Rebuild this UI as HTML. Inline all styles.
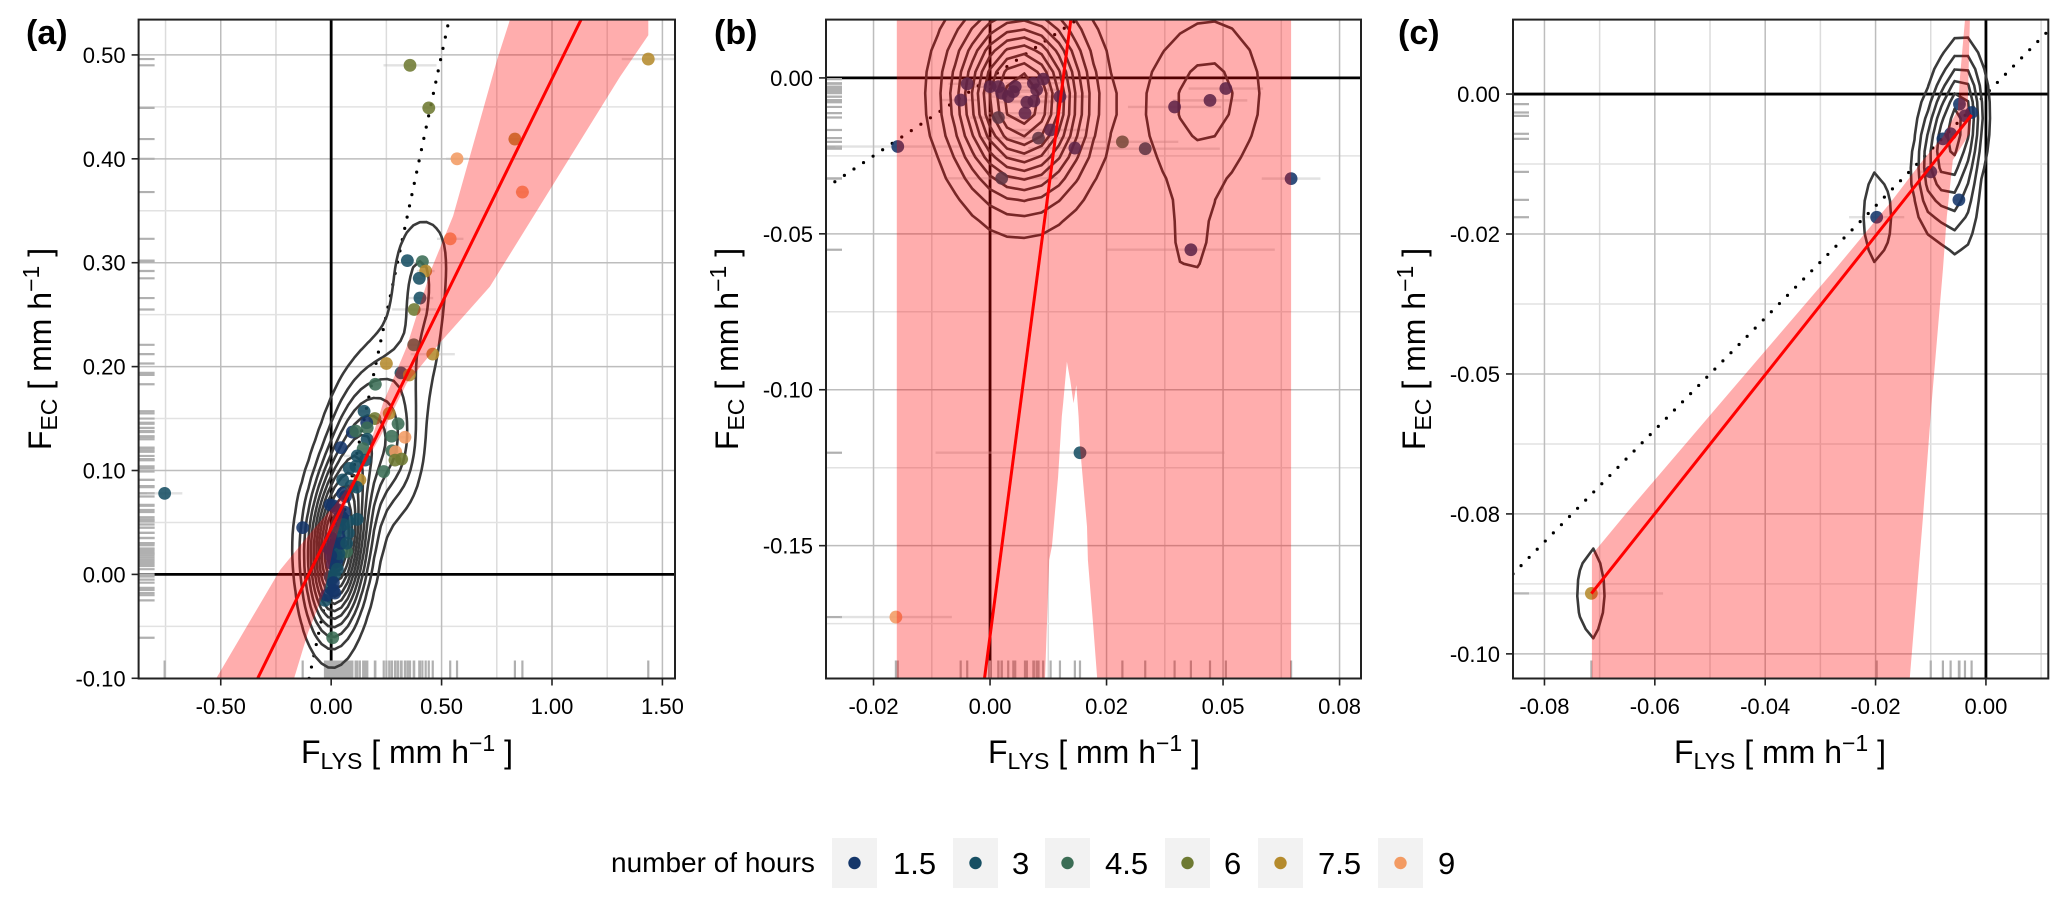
<!DOCTYPE html>
<html lang="en">
<head>
<meta charset="utf-8">
<title>FEC vs FLYS</title>
<style>
html,body{margin:0;padding:0;background:#fff;overflow:hidden;width:2067px;height:903px;}
svg{display:block;font-family:"Liberation Sans",Arial,sans-serif;}
</style>
</head>
<body>
<svg id="chart" xmlns="http://www.w3.org/2000/svg" width="2067" height="903" viewBox="0 0 2067 903">
<rect x="0" y="0" width="2067" height="903" fill="#fff"/>

<text x="26" y="44" font-size="34" font-weight="bold">(a)</text>
<text x="714" y="44" font-size="34" font-weight="bold">(b)</text>
<text x="1398" y="44" font-size="34" font-weight="bold">(c)</text>

<text x="407" y="763" font-size="32" text-anchor="middle" xml:space="preserve">F<tspan font-size="23" dy="6">LYS</tspan><tspan dy="-6"> [ mm h</tspan><tspan font-size="23" dy="-12">−1</tspan><tspan dy="12"> ]</tspan></text>
<text x="1094" y="763" font-size="32" text-anchor="middle" xml:space="preserve">F<tspan font-size="23" dy="6">LYS</tspan><tspan dy="-6"> [ mm h</tspan><tspan font-size="23" dy="-12">−1</tspan><tspan dy="12"> ]</tspan></text>
<text x="1780" y="763" font-size="32" text-anchor="middle" xml:space="preserve">F<tspan font-size="23" dy="6">LYS</tspan><tspan dy="-6"> [ mm h</tspan><tspan font-size="23" dy="-12">−1</tspan><tspan dy="12"> ]</tspan></text>

<text transform="translate(51 349) rotate(-90)" font-size="32" text-anchor="middle" xml:space="preserve">F<tspan font-size="23" dy="6">EC</tspan><tspan dy="-6"> [ mm h</tspan><tspan font-size="23" dy="-12">−1</tspan><tspan dy="12"> ]</tspan></text>
<text transform="translate(738 349) rotate(-90)" font-size="32" text-anchor="middle" xml:space="preserve">F<tspan font-size="23" dy="6">EC</tspan><tspan dy="-6"> [ mm h</tspan><tspan font-size="23" dy="-12">−1</tspan><tspan dy="12"> ]</tspan></text>
<text transform="translate(1425 349) rotate(-90)" font-size="32" text-anchor="middle" xml:space="preserve">F<tspan font-size="23" dy="6">EC</tspan><tspan dy="-6"> [ mm h</tspan><tspan font-size="23" dy="-12">−1</tspan><tspan dy="12"> ]</tspan></text>

<g>
  <text x="611" y="872" font-size="28">number of hours</text>
  <g>
    <rect x="832" y="838" width="45" height="50" fill="#f2f2f2"/>
    <circle cx="854.5" cy="863" r="6.2" fill="#14366a"/>
    <text x="893" y="874" font-size="31">1.5</text>
  </g>
  <g>
    <rect x="953" y="838" width="45" height="50" fill="#f2f2f2"/>
    <circle cx="975.5" cy="863" r="6.2" fill="#174f63"/>
    <text x="1012" y="874" font-size="31">3</text>
  </g>
  <g>
    <rect x="1045" y="838" width="45" height="50" fill="#f2f2f2"/>
    <circle cx="1067.5" cy="863" r="6.2" fill="#3b6d55"/>
    <text x="1105" y="874" font-size="31">4.5</text>
  </g>
  <g>
    <rect x="1165" y="838" width="45" height="50" fill="#f2f2f2"/>
    <circle cx="1187.5" cy="863" r="6.2" fill="#6e7a32"/>
    <text x="1224" y="874" font-size="31">6</text>
  </g>
  <g>
    <rect x="1258" y="838" width="45" height="50" fill="#f2f2f2"/>
    <circle cx="1280.5" cy="863" r="6.2" fill="#b58b2d"/>
    <text x="1318" y="874" font-size="31">7.5</text>
  </g>
  <g>
    <rect x="1378" y="838" width="45" height="50" fill="#f2f2f2"/>
    <circle cx="1400.5" cy="863" r="6.2" fill="#f39b63"/>
    <text x="1438" y="874" font-size="31">9</text>
  </g>
</g>
</svg>

<script>
// ---------- shared scale values ----------
const hourLevels = [1.5, 3, 4.5, 6, 7.5, 9];
const hourPalette = ['#14366a', '#174f63', '#3b6d55', '#6e7a32', '#b58b2d', '#f39b63'];

// ---------- panel (a) data ----------
const aX = [.345,.413,.428,.399,.402,.376,.374,.460,.250,.316,.354,.200,.149,.263,.198,.303,.161,.096,.111,.163,
  .274,.334,.163,.044,.145,.275,.292,.118,.319,.289,.154,.112,.082,.238,.052,.130,.115,.052,-.754,.010,
  .118,.078,-.129,.078,.037,.070,.032,.017,.002,-.005,.017,-.028,.007,.002,-.013,.010,-.005,.040,.032,-.005,-.020,.010,
  .357,.442,.570,.832,.866,.539,1.436,
  .005,.020,.030,.040,.050,.060,.015,.025,.012,.020,.000,.035,-.002,.010,.028,.045,.055,.065,.090,.070];
const aY = [.302,.301,.292,.285,.266,.255,.221,.212,.203,.194,.192,.183,.157,.155,.150,.145,.146,.137,.138,.141,
  .133,.132,.130,.122,.121,.119,.118,.114,.111,.110,.110,.104,.102,.099,.091,.091,.084,.078,.078,.066,
  .053,.051,.045,.040,.035,.022,.016,.008,-.005,-.013,-.018,-.025,-.061,.024,.025,.014,.067,.052,.062,-.002,-.020,-.015,
  .490,.449,.400,.419,.368,.323,.496,
  .010,.020,.030,.045,.055,.060,.000,.012,.028,.040,.035,.020,.018,-.008,.005,.030,.048,.075,.085,.030];
const aHours = [3,4.5,7.5,3,3,6,4.5,7.5,7.5,3,7.5,4.5,3,7.5,6,4.5,1.5,1.5,4.5,4.5,
  4.5,9,3,1.5,4.5,4.5,9,3,6,6,3,3,3,4.5,3,7.5,3,1.5,3,1.5,
  3,3,1.5,3,1.5,4.5,3,3,3,3,1.5,3,4.5,1.5,1.5,3,1.5,1.5,1.5,3,1.5,1.5,
  6,6,9,7.5,9,9,7.5,
  1.5,1.5,3,1.5,1.5,1.5,3,1.5,1.5,3,1.5,3,1.5,1.5,3,1.5,3,1.5,3,3];
const aErr = [.03,.03,.04,.03,.06,.10,.03,.10,.03,.03,.03,.03,.03,.03,.03,.03,.03,.03,.03,.03,
  .03,.03,.03,.03,.03,.03,.03,.06,.03,.03,.03,.03,.03,.03,.03,.03,.03,.03,.08,.03,
  .02,.02,.02,.02,.02,.02,.02,.02,.02,.02,.02,.02,.02,.02,.02,.02,.02,.02,.02,.02,.02,.02,
  .12,.03,.05,.03,.03,.06,.12,
  .02,.02,.02,.02,.02,.02,.02,.02,.02,.02,.02,.02,.02,.02,.02,.02,.02,.02,.02,.02];
const aRibbonX = [-.520,-.232,-.082,.017,.144,.235,.342,.452,.552,.751,.810,1.436,1.436,1.308,.719,.493,.342,.221,.085,.008,-.028,-.105,-.168];
const aRibbonY = [-.100,.004,.043,.067,.104,.165,.219,.293,.345,.495,.534,.534,.519,.479,.277,.223,.184,.132,.081,.024,-.015,-.056,-.100];
const aFitIntercept = 0.044;
const aFitSlope = 0.433;
const aFitRange = [-.335, 1.15];
const a11Range = [-.1, .534];
const aXMajor = [-.5, 0, .5, 1, 1.5];
const aXLabels = ['-0.50', '0.00', '0.50', '1.00', '1.50'];
const aXMinor = [-.75, -.25, .25, .75, 1.25];
const aYMajor = [-.1, 0, .1, .2, .3, .4, .5];
const aYLabels = ['-0.10', '0.00', '0.10', '0.20', '0.30', '0.40', '0.50'];
const aYMinor = [-.05, .05, .15, .25, .35, .45];
const aLevels = [2.6, 5.2, 7.8, 10.4, 13, 15.6, 18.2, 20.8, 23.4, 26, 28.6, 31.2];

// ---------- panel (b) data ----------
const bX = [-.0049,-.0063,0,.0018,.0025,.0039,.0054,.005,.0093,.0114,.01,.0079,.0094,.0075,.015,.0018,.0104,.013,.0182,.0284,.0025,
  .0333,.0396,.0472,.0506,.0646,.0431,-.0198,.0193,-.0202];
const bY = [-.0019,-.0071,-.0028,-.0028,-.0049,-.006,-.0028,-.0044,-.0017,-.0004,-.0038,-.0078,-.0074,-.0113,-.006,-.0127,-.0193,-.0167,-.0225,-.0205,-.0322,
  -.0227,-.0093,-.0072,-.0034,-.0323,-.0551,-.022,-.1202,-.1729];
const bHours = [1.5,1.5,1.5,1.5,1.5,1.5,1.5,1.5,1.5,1.5,1.5,1.5,1.5,1.5,1.5,3,3,1.5,1.5,4.5,3,
  3,1.5,1.5,1.5,1.5,1.5,1.5,3,9];
const bErr = [.004,.004,.004,.004,.004,.004,.004,.004,.006,.006,.006,.006,.006,.008,.006,.006,.012,.008,.010,.012,.012,
  .016,.010,.008,.008,.0063,.018,.0134,.031,.012];
const bDensityWeight = [.5,.5,1,1,1,1,1,1,1.3,1.3,1,1,1,1,1,1,1,1,0,0,.6,
  0,1.15,1.15,1.15,0,1.2,0,0,0];
const bRibbonX = [-.0200,.0646,.0646,.0230,.0221,.0210,.0208,.0193,.0190,.0185,.0179,.0172,.0165,.0157,.0154,.0146,.0133,.0127,.0118,-.0200];
const bRibbonY = [.0187,.0187,-.1926,-.1926,-.1748,-.1546,-.1439,-.1183,-.1086,-.0985,-.1043,-.0969,-.0910,-.1042,-.1086,-.1279,-.1500,-.1546,-.1926,-.1926];
const bFitIntercept = -0.179;
const bFitSlope = 11.4;
const bFitRange = [-.0012, .0175];
const b11Range = [-.0333, .0187];
const bXMajor = [-.025, 0, .025, .05, .075];
const bXLabels = ['-0.02', '0.00', '0.02', '0.05', '0.08'];
const bXMinor = [-.0125, .0125, .0375, .0625];
const bYMajor = [-.15, -.1, -.05, 0];
const bYLabels = ['-0.15', '-0.10', '-0.05', '0.00'];
const bYMinor = [-.175, -.125, -.075, -.025];
const bLevels = [1.15, 2.3, 3.45, 4.6, 5.75, 6.9, 8.05, 9.2, 10.35, 11.5, 12.65];

// ---------- panel (c) data ----------
const cX = [-.0048,-.0026,-.0038,-.0078,-.0064,-.01,-.0049,-.0198,-.0715];
const cY = [-.0018,-.0033,-.0039,-.008,-.0071,-.0139,-.0189,-.022,-.0892];
const cHours = [1.5,1.5,1.5,1.5,1.5,1.5,1.5,1.5,7.5];
const cErr = [.001,.001,.001,.001,.001,.002,.001,.005,.013];
const cDensityWeight = [1,.7,1,1,1,1.5,1.2,1,1];
const cRibbonX = [-.0714,-.0714,-.0699,-.0651,-.0476,-.0274,-.0174,-.0114,-.0078,-.0051,-.0047,-.0038,
  -.0029,-.0033,-.0026,-.0029,-.006,-.0071,-.0078,-.0098,-.0114,-.0138];
const cRibbonY = [-.1043,-.0823,-.0805,-.0748,-.0546,-.0314,-.0195,-.0118,-.0076,-.0029,.0031,.0133,
  .0133,-.0023,-.0041,-.007,-.0118,-.0219,-.0314,-.0546,-.0755,-.1043];
const cFitIntercept = -0.0005;
const cFitSlope = 1.241;
const cFitRange = [-.0715, -.0026];
const c11Range = [-.0857, .0125];
const cXMajor = [-.08, -.06, -.04, -.02, 0];
const cXLabels = ['-0.08', '-0.06', '-0.04', '-0.02', '0.00'];
const cXMinor = [-.07, -.05, -.03, -.01, .01];
const cYMajor = [-.1, -.075, -.05, -.025, 0];
const cYLabels = ['-0.10', '-0.08', '-0.05', '-0.02', '0.00'];
const cYMinor = [-.0875, -.0625, -.0375, -.0125];
const cLevels = [.55, 1.1, 1.65, 2.2, 2.75, 3.3, 3.85];

// ---------- layout ----------
const NS = 'http://www.w3.org/2000/svg';
const root = document.getElementById('chart');

function mk(parent, tag, attrs) {
  const el = document.createElementNS(NS, tag);
  for (const k in attrs) el.setAttribute(k, attrs[k]);
  parent.appendChild(el);
  return el;
}

function hourColor(h) {
  const i = hourLevels.indexOf(h);
  return hourPalette[i < 0 ? 0 : i];
}

function buildField(xs, ys, weights, sx, sy, grid) {
  const [nx, ny, xmin, xmax, ymin, ymax] = grid;
  const dx = (xmax - xmin) / nx, dy = (ymax - ymin) / ny;
  const field = [];
  for (let i = 0; i <= nx; i++) {
    field.push([]);
    for (let j = 0; j <= ny; j++) {
      const gx = xmin + i * dx, gy = ymin + j * dy;
      let s = 0;
      for (let k = 0; k < xs.length; k++) {
        const w = weights ? weights[k] : 1;
        const u = (gx - xs[k]) / sx, v = (gy - ys[k]) / sy;
        s += w * Math.exp(-0.5 * (u * u + v * v));
      }
      field[i].push(s);
    }
  }
  return field;
}

function contourD(field, level, px, py, grid) {
  const [nx, ny, xmin, xmax, ymin, ymax] = grid;
  const dx = (xmax - xmin) / nx, dy = (ymax - ymin) / ny;
  let d = '';
  const lerp = (a, b) => (level - a) / (b - a);
  for (let i = 0; i < nx; i++) {
    for (let j = 0; j < ny; j++) {
      const f00 = field[i][j], f10 = field[i + 1][j], f11 = field[i + 1][j + 1], f01 = field[i][j + 1];
      const x0 = xmin + i * dx, y0 = ymin + j * dy;
      const hits = [];
      if ((f00 < level) !== (f10 < level)) hits.push([x0 + lerp(f00, f10) * dx, y0]);
      if ((f10 < level) !== (f11 < level)) hits.push([x0 + dx, y0 + lerp(f10, f11) * dy]);
      if ((f01 < level) !== (f11 < level)) hits.push([x0 + lerp(f01, f11) * dx, y0 + dy]);
      if ((f00 < level) !== (f01 < level)) hits.push([x0, y0 + lerp(f00, f01) * dy]);
      for (let k = 0; k + 1 < hits.length; k += 2) {
        d += 'M' + px(hits[k][0]).toFixed(1) + ' ' + py(hits[k][1]).toFixed(1) +
             'L' + px(hits[k + 1][0]).toFixed(1) + ' ' + py(hits[k + 1][1]).toFixed(1);
      }
    }
  }
  return d;
}

function drawPanel(p) {
  const W = p.right - p.left, H = p.bottom - p.top;
  const px = v => p.left + (v - p.xlim[0]) / (p.xlim[1] - p.xlim[0]) * W;
  const py = v => p.top + (p.ylim[1] - v) / (p.ylim[1] - p.ylim[0]) * H;

  const g = mk(root, 'g', {});
  
  

  const defs = mk(g, 'defs', {});
  const clip = mk(defs, 'clipPath', { id: 'clip-' + p.id });
  mk(clip, 'rect', { x: p.left, y: p.top, width: W, height: H });

  const plot = mk(g, 'g', { 'clip-path': 'url(#clip-' + p.id + ')' });
  
  

  // grid
  p.xMinor.forEach(v => {
    const el = mk(plot, 'line', { x1: px(v), x2: px(v), y1: p.top, y2: p.bottom, stroke: '#dcdcdc', 'stroke-width': 1.5 });
    
    
  });
  p.yMinor.forEach(v => {
    const el = mk(plot, 'line', { x1: p.left, x2: p.right, y1: py(v), y2: py(v), stroke: '#e2e2e2', 'stroke-width': 1.5 });
    
    
  });
  p.xMajor.forEach(v => {
    const el = mk(plot, 'line', { x1: px(v), x2: px(v), y1: p.top, y2: p.bottom, stroke: '#bdbdbd', 'stroke-width': 1.5 });
    
    
  });
  p.yMajor.forEach(v => {
    const el = mk(plot, 'line', { x1: p.left, x2: p.right, y1: py(v), y2: py(v), stroke: '#bdbdbd', 'stroke-width': 1.5 });
    
    
  });

  // zero reference lines
  const zh = mk(plot, 'line', { x1: p.left, x2: p.right, y1: py(0), y2: py(0), stroke: '#000', 'stroke-width': 2.8 });
  
  
  const zv = mk(plot, 'line', { x1: px(0), x2: px(0), y1: p.top, y2: p.bottom, stroke: '#000', 'stroke-width': 2.8 });
  
  

  // rugs
  p.x.forEach(v => {
    const el = mk(plot, 'line', { x1: px(v), x2: px(v), y1: p.bottom - 18, y2: p.bottom, stroke: '#b0b0b0', 'stroke-width': 2.2 });
    
    
  });
  p.y.forEach(v => {
    const el = mk(plot, 'line', { x1: p.left, x2: p.left + 16, y1: py(v), y2: py(v), stroke: '#b0b0b0', 'stroke-width': 2.2 });
    
    
  });

  // horizontal error bars
  p.x.forEach((v, i) => {
    const el = mk(plot, 'line', { x1: px(v - p.err[i]), x2: px(v + p.err[i]), y1: py(p.y[i]), y2: py(p.y[i]), stroke: 'rgba(190,190,190,.45)', 'stroke-width': 2.4 });
    
    
  });

  // 1:1 dotted line
  const one = mk(plot, 'line', { x1: px(p.oneRange[0]), y1: py(p.oneRange[0]), x2: px(p.oneRange[1]), y2: py(p.oneRange[1]),
    stroke: '#000', 'stroke-width': 3.2, 'stroke-linecap': 'round', 'stroke-dasharray': '0 11.5' });
  
  

  // density contours computed from the points
  const ex = (p.xlim[1] - p.xlim[0]) * .05, ey = (p.ylim[1] - p.ylim[0]) * .05;
  const grid = [p.nx, p.ny, p.xlim[0] - ex, p.xlim[1] + ex, p.ylim[0] - ey, p.ylim[1] + ey];
  const field = buildField(p.x, p.y, p.weight, p.sx, p.sy, grid);
  p.levels.forEach(lv => {
    const d = contourD(field, lv, px, py, grid);
    if (!d) return;
    const el = mk(plot, 'path', { d: d, fill: 'none', stroke: '#3a3a3a', 'stroke-width': 2.6, 'stroke-linecap': 'round', 'stroke-linejoin': 'round' });
    
    
  });

  // points
  p.x.forEach((v, i) => {
    const el = mk(plot, 'circle', { cx: px(v), cy: py(p.y[i]), r: 6.4, fill: hourColor(p.hours[i]), 'fill-opacity': .88 });
    
    
  });

  // confidence ribbon (sits over everything below it)
  const pts = p.ribbonX.map((v, i) => px(v).toFixed(1) + ',' + py(p.ribbonY[i]).toFixed(1)).join(' ');
  const rib = mk(plot, 'polygon', { points: pts, fill: 'rgba(255,0,0,.32)' });
  
  

  // regression line
  const fit = v => p.fitIntercept + p.fitSlope * v;
  const rl = mk(plot, 'line', { x1: px(p.fitRange[0]), y1: py(fit(p.fitRange[0])), x2: px(p.fitRange[1]), y2: py(fit(p.fitRange[1])), stroke: '#f00', 'stroke-width': 3 });
  
  

  // border
  const border = mk(g, 'rect', { x: p.left, y: p.top, width: W, height: H, fill: 'none', stroke: '#222', 'stroke-width': 2 });
  
  

  // ticks + labels
  p.xMajor.forEach((v, i) => {
    const t = mk(g, 'line', { x1: px(v), x2: px(v), y1: p.bottom, y2: p.bottom + 7, stroke: '#222', 'stroke-width': 1.6 });
    
    
    const l = mk(g, 'text', { x: px(v), y: p.bottom + 35.5, 'font-size': 22, 'text-anchor': 'middle' });
    l.textContent = p.xLabels[i];
    
    
  });
  p.yMajor.forEach((v, i) => {
    const t = mk(g, 'line', { x1: p.left - 7, x2: p.left, y1: py(v), y2: py(v), stroke: '#222', 'stroke-width': 1.6 });
    
    
    const l = mk(g, 'text', { x: p.left - 13, y: py(v) + 8, 'font-size': 22, 'text-anchor': 'end' });
    l.textContent = p.yLabels[i];
    
    
  });
}

drawPanel({ id: 'a', left: 138.6, right: 675, top: 19.6, bottom: 678.5,
  xlim: [-.872, 1.557], ylim: [-.1002, .534],
  x: aX, y: aY, hours: aHours, err: aErr, ribbonX: aRibbonX, ribbonY: aRibbonY,
  fitIntercept: aFitIntercept, fitSlope: aFitSlope, fitRange: aFitRange, oneRange: a11Range,
  xMajor: aXMajor, xLabels: aXLabels, xMinor: aXMinor, yMajor: aYMajor, yLabels: aYLabels, yMinor: aYMinor,
  levels: aLevels, weight: null, sx: .08, sy: .04, nx: 90, ny: 90 });

drawPanel({ id: 'b', left: 826, right: 1361, top: 19.6, bottom: 678.5,
  xlim: [-.0352, .0796], ylim: [-.1926, .0187],
  x: bX, y: bY, hours: bHours, err: bErr, ribbonX: bRibbonX, ribbonY: bRibbonY,
  fitIntercept: bFitIntercept, fitSlope: bFitSlope, fitRange: bFitRange, oneRange: b11Range,
  xMajor: bXMajor, xLabels: bXLabels, xMinor: bXMinor, yMajor: bYMajor, yLabels: bYLabels, yMinor: bYMinor,
  levels: bLevels, weight: bDensityWeight, sx: .0072, sy: .018, nx: 34, ny: 34 });

drawPanel({ id: 'c', left: 1513, right: 2048.3, top: 19.6, bottom: 678.5,
  xlim: [-.0857, .0113], ylim: [-.1044, .0133],
  x: cX, y: cY, hours: cHours, err: cErr, ribbonX: cRibbonX, ribbonY: cRibbonY,
  fitIntercept: cFitIntercept, fitSlope: cFitSlope, fitRange: cFitRange, oneRange: c11Range,
  xMajor: cXMajor, xLabels: cXLabels, xMinor: cXMinor, yMajor: cYMajor, yLabels: cYLabels, yMinor: cYMinor,
  levels: cLevels, weight: cDensityWeight, sx: .00224, sy: .0074, nx: 44, ny: 44 });
</script>
</body>
</html>
